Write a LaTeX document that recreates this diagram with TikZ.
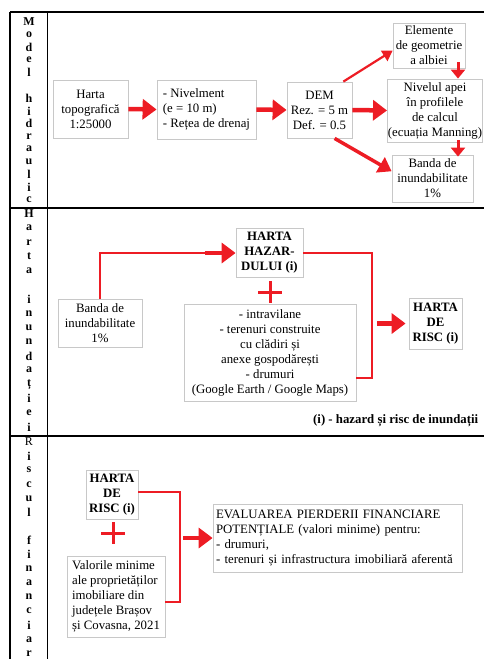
\documentclass[tikz,border=0pt]{standalone}
\usepackage{fontspec}
\setmainfont{Liberation Serif}
\usetikzlibrary{arrows.meta,calc}
\definecolor{fred}{RGB}{237,28,36}
\definecolor{bgray}{RGB}{200,200,200}
\newcommand{\redplus}[1]{%
  \draw[pls] ($(#1)+(-12,0)$) -- ($(#1)+(12,0)$);
  \draw[pls] ($(#1)+(0,-11)$) -- ($(#1)+(0,11)$);}
\newcommand{\vtitle}[4]{%
  \foreach \c [count=\k] in {#4}
    \node[vlet] (#1\k) at (29,{#2+(\k-1)*#3}) {\c};}
\tikzset{
  box/.style={draw=bgray, line width=0.8pt, inner xsep=1.5pt, inner ysep=2pt, align=center,
      font=\fontsize{12.8}{15}\selectfont},
  bbox/.style={box, font=\fontsize{12.8}{15}\selectfont\bfseries},
  arr/.style={-{Triangle[length=14pt,width=20pt]}, fred, line width=4.5pt},
  marr/.style={-{Triangle[length=13pt,width=17pt]}, fred, line width=3.5pt},
  sarr/.style={-{Triangle[length=10pt,width=12pt]}, fred, line width=2.2pt},
  varr/.style={-{Triangle[length=9pt,width=14pt]}, fred, line width=3pt},
  lnk/.style={fred, line width=1.4pt},
  pls/.style={fred, line width=3pt},
  frm/.style={black, line width=1.8pt},
  vlet/.style={inner sep=0pt, font=\fontsize{12}{12}\selectfont\bfseries},
  fnote/.style={anchor=west, inner sep=0pt, font=\fontsize{12.8}{15}\selectfont\bfseries},
}
\begin{document}
\begin{tikzpicture}[x=1pt,y=-1pt]
\useasboundingbox (0,0) rectangle (483,659);
% frame
\draw[frm] (10,12) -- (490,12);
\draw[frm] (10,12) -- (10,665);
\draw[frm] (47.5,12) -- (47.5,665);
\draw[frm] (10,208) -- (490,208);
\draw[frm] (10,436) -- (490,436);
\vtitle{ma}{22}{12.7}{M,o,d,e,l,{},h,i,d,r,a,u,l,i,c}
\vtitle{hi}{214}{14.2}{H,a,r,t,a,{},i,n,u,n,d,a,ț,i,e,i}
\vtitle{rf}{442}{14.1}{{\mdseries R},i,s,c,u,l,{},f,i,n,a,n,c,i,a,r}
% model hidraulic
\node[box, minimum width=75, minimum height=58] (harta) at (90.5,109) {Harta\\topografică\\1:25000};
\node[box, align=left, minimum width=99, minimum height=59] (nivel) at (206.5,109.5) {- Nivelment\\(e = 10 m)\\- Rețea de drenaj};
\node[box, minimum width=65, minimum height=56] (dem) at (319.5,110) {DEM\\Rez. = 5 m\\Def. = 0.5};
\node[box, minimum width=72, minimum height=45] (elem) at (429,45.5) {Elemente\\de geometrie\\a albiei};
\node[box, inner xsep=0.5pt, minimum width=90, minimum height=63] (apa) at (435,110.5) {Nivelul apei\\în profilele\\de calcul\\(ecuația Manning)};
\node[box, minimum width=81, minimum height=47] (banda1) at (432.5,178.5) {Banda de\\inundabilitate\\1\%};
\draw[arr] (harta.east) -- (nivel.west);
\draw[arr] (nivel.east) -- (dem.west);
\draw[arr] (dem.east) -- (apa.west);
\draw[sarr] (dem.50) -- (elem.188);
\draw[marr] (dem.-62) -- (banda1.170);
\draw[varr] ([shift={(29,-6)}]elem.south) -- ([shift={(23,0)}]apa.north);
\draw[varr] ([shift={(23,-2)}]apa.south) -- ([shift={(25.5,2)}]banda1.north);
% harta inundatiei
\node[bbox, minimum width=67, minimum height=49] (haz) at (269.5,253) {HARTA\\HAZAR-\\DULUI (i)};
\node[box, minimum width=84, minimum height=48] (banda2) at (100,323) {Banda de\\inundabilitate\\1\%};
\node[box, minimum width=172, minimum height=97] (lista) at (270,352.5) {- intravilane\\- terenuri construite\\cu clădiri și\\anexe gospodărești\\- drumuri\\(Google Earth / Google Maps)};
\node[bbox, minimum width=53, minimum height=51] (risc2) at (435.5,323.5) {HARTA\\DE\\RISC (i)};
\coordinate (p2) at (270,292);
\redplus{p2}
\coordinate (j2) at (372,323.5);
\draw[lnk] (banda2.north) |- ([shift={(-31,0)}]haz.west);
\draw[arr] ([shift={(-31,0)}]haz.west) -- (haz.west);
\draw[lnk] (haz.east) -| (j2) |- ([shift={(0,25.5)}]lista.east);
\draw[arr, shorten >=3pt] ([shift={(5,0)}]j2) -- (risc2.west);
\node[fnote] (fn) at (313,421) {(i) - hazard și risc de inundații};
% riscul financiar
\node[bbox, minimum width=52, minimum height=49] (risc3) at (112,494.5) {HARTA\\DE\\RISC (i)};
\node[box, align=left, minimum width=98, minimum height=81] (valori) at (116,596.5) {Valorile minime\\ale proprietăților\\imobiliare din\\județele Brașov\\și Covasna, 2021};
\node[box, align=left, inner xsep=3pt, text width=243, minimum height=68] (eval) at (337.5,538) {\makebox[\linewidth][s]{EVALUAREA PIERDERII FINANCIARE}\\POTENȚIALE (valori minime) pentru:\\- drumuri,\\- terenuri și infrastructura imobiliară aferentă};
\coordinate (p3) at (113,533);
\redplus{p3}
\coordinate (j3) at (180,538);
\draw[lnk] ([shift={(0,-2.5)}]risc3.east) -| (j3) |- ([shift={(0,5.5)}]valori.east);
\draw[arr] ([shift={(3,0)}]j3) -- (eval.west);
\end{tikzpicture}
\end{document}
